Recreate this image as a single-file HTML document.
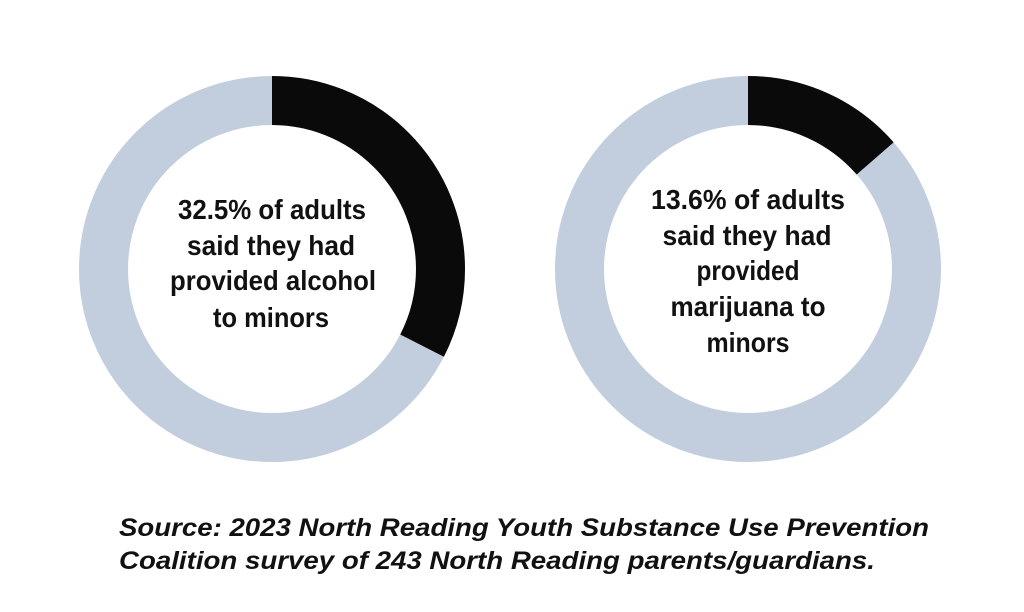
<!DOCTYPE html>
<html><head><meta charset="utf-8"><style>
html,body{margin:0;padding:0;background:#fff;}
svg{display:block;}
.t{font-family:"Liberation Sans Narrow","Liberation Sans",sans-serif;font-weight:bold;font-size:28px;fill:#111;}
.s{font-family:"Liberation Sans Narrow","Liberation Sans",sans-serif;font-weight:bold;font-style:italic;font-size:25px;fill:#111;}
</style></head><body>
<svg width="1024" height="612" viewBox="0 0 1024 612" xmlns="http://www.w3.org/2000/svg">
<rect width="1024" height="612" fill="#fff"/>
<circle cx="272" cy="269" r="168.5" fill="none" stroke="#c2cddd" stroke-width="49"/>
<circle cx="272" cy="269" r="168.5" fill="none" stroke="#0a0a0a" stroke-width="49" stroke-dasharray="344.1 2000" transform="rotate(-90 272 269)"/>
<circle cx="748" cy="269" r="168.5" fill="none" stroke="#c2cddd" stroke-width="49"/>
<circle cx="748" cy="269" r="168.5" fill="none" stroke="#0a0a0a" stroke-width="49" stroke-dasharray="144 2000" transform="rotate(-90 748 269)"/>
<g class="t" text-anchor="middle">
<text x="272" y="219" textLength="188" lengthAdjust="spacingAndGlyphs">32.5% of adults</text>
<text x="271" y="255" textLength="168" lengthAdjust="spacingAndGlyphs">said they had</text>
<text x="273" y="290" textLength="206" lengthAdjust="spacingAndGlyphs">provided alcohol</text>
<text x="271" y="327" textLength="116" lengthAdjust="spacingAndGlyphs">to minors</text>
<text x="748" y="209" textLength="194" lengthAdjust="spacingAndGlyphs">13.6% of adults</text>
<text x="747" y="245" textLength="169" lengthAdjust="spacingAndGlyphs">said they had</text>
<text x="748" y="280" textLength="103" lengthAdjust="spacingAndGlyphs">provided</text>
<text x="748" y="316" textLength="155" lengthAdjust="spacingAndGlyphs">marijuana to</text>
<text x="748" y="352" textLength="83" lengthAdjust="spacingAndGlyphs">minors</text>
</g>
<text class="s" x="119" y="536" textLength="810" lengthAdjust="spacingAndGlyphs">Source: 2023 North Reading Youth Substance Use Prevention</text>
<text class="s" x="119" y="569" textLength="756" lengthAdjust="spacingAndGlyphs">Coalition survey of 243 North Reading parents/guardians.</text>
</svg>
</body></html>
